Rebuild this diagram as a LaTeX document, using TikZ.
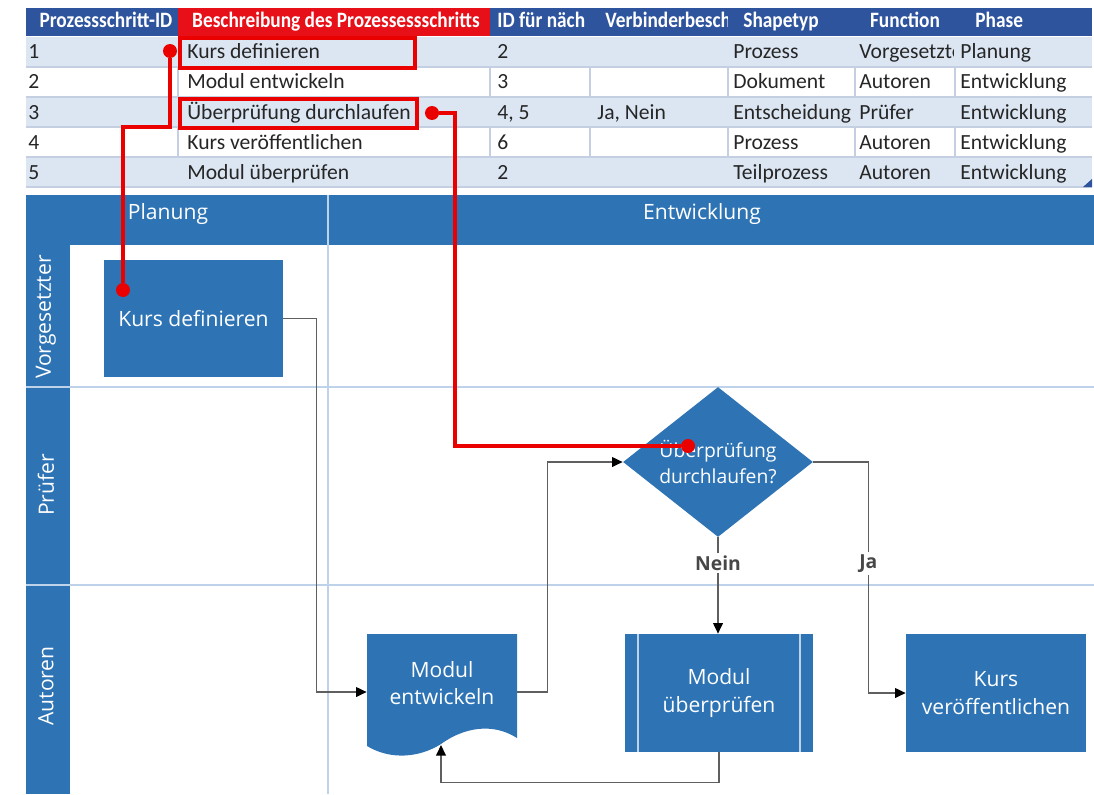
\documentclass[tikz,border=0pt]{standalone}
\usepackage{fontspec}
\setmainfont{Carlito}
\newfontfamily\hdrfont[FakeStretch=0.88]{Carlito}
\newfontfamily\diafont{Open Sans}
\usetikzlibrary{calc,shapes.geometric,arrows.meta}

\definecolor{tabhead}{RGB}{47,84,158}
\definecolor{tabred}{RGB}{232,16,24}
\definecolor{rowblue}{RGB}{220,230,243}
\definecolor{gridline}{RGB}{196,208,226}
\definecolor{laneblue}{RGB}{46,116,181}
\definecolor{laneline}{RGB}{190,210,234}
\definecolor{mark}{RGB}{235,0,0}
\definecolor{conngray}{RGB}{95,95,95}

\tikzset{
  cell/.style={anchor=base west, inner sep=0pt, text=black!85,
    font=\fontsize{12.3}{14}\selectfont},
  headcell/.style={anchor=base, inner sep=0pt, text=white,
    font=\hdrfont\bfseries\fontsize{12.5}{14}\selectfont},
  grid/.style={draw=gridline, line width=0.7pt},
  lanetext/.style={inner sep=0pt, text=white, font=\diafont\fontsize{12}{14}\selectfont},
  laneline/.style={draw=laneline, line width=1pt},
  block/.style={fill=laneblue, inner sep=0pt, align=center, text=white,
    font=\diafont\fontsize{12}{15.5}\selectfont},
  conn/.style={draw=conngray, line width=0.85pt,
    -{Triangle[length=6pt,width=5.5pt,color=black]}},
  lbl/.style={fill=white, inner sep=1.5pt, text=black!72,
    font=\diafont\bfseries\fontsize{11}{13}\selectfont},
  markline/.style={draw=mark, line width=2.3pt},
  dot/.style={circle, fill=mark, inner sep=0pt, minimum size=0.28cm}
}

\begin{document}
\begin{tikzpicture}[x=0.02cm, y=-0.02cm]
\useasboundingbox (0,0) rectangle (1094,794);

% Table header
\fill[tabhead] (26,8) rectangle (1092,36);
\fill[tabred] (178,8) rectangle (490,36);

% Table rows
\fill[rowblue] (26,37) rectangle (1092,67);
\fill[rowblue] (26,97) rectangle (1092,127);
\fill[rowblue] (26,157) rectangle (1092,187);
\draw[grid] (26,67) -- (1092,67) (26,97) -- (1092,97) (26,127) -- (1092,127)
  (26,157) -- (1092,157) (26,187) -- (1092,187);
\draw[grid] (178,67) -- (178,97) (490,67) -- (490,97) (590,67) -- (590,97)
  (728,67) -- (728,97) (855,67) -- (855,97) (955,67) -- (955,97);
\draw[grid] (178,127) -- (178,157) (490,127) -- (490,157) (590,127) -- (590,157)
  (728,127) -- (728,157) (855,127) -- (855,157) (955,127) -- (955,157);
\fill[tabhead] (1083,187) -- (1092,187) -- (1092,179) -- cycle;

% Header labels
\node[headcell] (h1) at (106,28) {Prozessschritt-ID};
\node[headcell] (h2) at (336,28) {Beschreibung des Prozessessschritts};
\begin{scope}
  \clip (490,8) rectangle (588,36);
  \node[headcell, anchor=base west] (h3) at (497,28) {ID für näch};
\end{scope}
\begin{scope}
  \clip (590,8) rectangle (727,36);
  \node[headcell, anchor=base west] (h4) at (605,28) {Verbinderbesch};
\end{scope}
\node[headcell, anchor=base west] (h5) at (743,28) {Shapetyp};
\node[headcell] (h6) at (905,28) {Function};
\node[headcell, anchor=base west] (h7) at (975,28) {Phase};

% Row 1
\node[cell] (a1) at (28,59) {1};
\node[cell] (b1) at (187,59) {Kurs definieren};
\node[cell] (c1) at (497,59) {2};
\node[cell] (e1) at (733,59) {Prozess};
\begin{scope}
  \clip (855,37) rectangle (953,67);
  \node[cell] (f1) at (859,59) {Vorgesetzte};
\end{scope}
\node[cell] (g1) at (960,59) {Planung};

% Row 2
\node[cell] (a2) at (28,89) {2};
\node[cell] (b2) at (187,89) {Modul entwickeln};
\node[cell] (c2) at (497,89) {3};
\node[cell] (e2) at (733,89) {Dokument};
\node[cell] (f2) at (859,89) {Autoren};
\node[cell] (g2) at (960,89) {Entwicklung};

% Row 3
\node[cell] (a3) at (28,119) {3};
\node[cell] (b3) at (187,119) {Überprüfung durchlaufen};
\node[cell] (c3) at (497,119) {4, 5};
\node[cell] (d3) at (597,119) {Ja, Nein};
\node[cell] (e3) at (733,119) {Entscheidung};
\node[cell] (f3) at (859,119) {Prüfer};
\node[cell] (g3) at (960,119) {Entwicklung};

% Row 4
\node[cell] (a4) at (28,149) {4};
\node[cell] (b4) at (187,149) {Kurs veröffentlichen};
\node[cell] (c4) at (497,149) {6};
\node[cell] (e4) at (733,149) {Prozess};
\node[cell] (f4) at (859,149) {Autoren};
\node[cell] (g4) at (960,149) {Entwicklung};

% Row 5
\node[cell] (a5) at (28,179) {5};
\node[cell] (b5) at (187,179) {Modul überprüfen};
\node[cell] (c5) at (497,179) {2};
\node[cell] (e5) at (733,179) {Teilprozess};
\node[cell] (f5) at (859,179) {Autoren};
\node[cell] (g5) at (960,179) {Entwicklung};

% Swimlanes
\fill[laneblue] (26,195) rectangle (1094,245);
\fill[laneblue] (26,245) rectangle (70,794);
\draw[laneline] (26,387) -- (1094,387);
\draw[laneline] (26,585) -- (1094,585);
\draw[laneline] (328,195) -- (328,794);

\node[lanetext] (phase1) at (168,214) {Planung};
\node[lanetext] (phase2) at (702,214) {Entwicklung};
\node[lanetext, rotate=90] (lane1) at (46,317) {Vorgesetzter};
\node[lanetext, rotate=90] (lane2) at (46,485) {Prüfer};
\node[lanetext, rotate=90] (lane3) at (46,686) {Autoren};

% Process shapes
\node[block, minimum width=3.58cm, minimum height=2.34cm] (kd) at (193.5,318.5) {Kurs definieren};

\fill[laneblue] (367,634) -- (517,634) -- (517,738)
  .. controls (492,722) and (463,728) .. (441,744)
  .. controls (419,758) and (390,760) .. (367,746) -- cycle;
\node[minimum width=3cm, inner sep=0pt] (me) at (442,692) {};
\node[block, fill=none] (metext) at (442,683) {Modul\\entwickeln};
\coordinate (mebot) at (441,745);

\node[block, diamond, aspect=1.27, minimum width=3.8cm, minimum height=3cm,
  font=\diafont\fontsize{11}{15}\selectfont] (dia) at (718,462) {Überprüfung\\durchlaufen?};

\node[block, minimum width=3.78cm, minimum height=2.36cm] (mue) at (719,693) {Modul\\überprüfen};
\draw[laneline, line width=0.8pt] ($(mue.north west)+(14,0)$) -- ($(mue.south west)+(14,0)$);
\draw[laneline, line width=0.8pt] ($(mue.north east)+(-14,0)$) -- ($(mue.south east)+(-14,0)$);

\node[block, minimum width=3.6cm, minimum height=2.36cm] (kv) at (996,693) {Kurs\\veröffentlichen};

% Connectors
\draw[conn] (kd.east) -- ++(33,0) |- (me.west);
\draw[conn] (me.east) -- ++(30,0) |- (dia.west);
\draw[conn] (dia.south) -- node[lbl, pos=0.27] (nein) {Nein} (dia.south |- mue.north);
\draw[conn] (dia.east) -- ++(55,0) |- node[lbl, pos=0.22] (ja) {Ja} (kv.west);
\draw[conn] (mue.south) -- ++(0,30) -| (mebot);

% Red markers
\draw[markline] (180,38) rectangle (415,68);
\draw[markline] (180,99) rectangle (417,128);
\node[dot] (d1) at (170,51) {};
\node[dot] (d2) at (123,290) {};
\node[dot] (d3) at (432,113) {};
\node[dot] (d4) at (688,446) {};
\coordinate (r1) at (170,127);
\coordinate (r2) at (455,446);
\draw[markline] (d1) -- (r1) -| (d2);
\draw[markline] (d3) -| (r2) -- (d4);

\end{tikzpicture}
\end{document}
